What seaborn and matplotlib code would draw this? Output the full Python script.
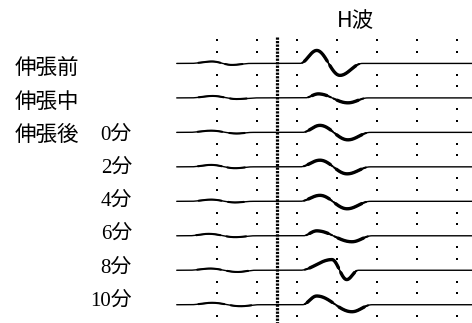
import numpy as np
import pandas as pd
import seaborn as sns
import matplotlib.pyplot as plt

# Row labels (top to bottom)
stage_labels = ["伸張前", "伸張中", "伸張後", "", "", "", "", ""]
minute_labels = ["", "", "0分", "2分", "4分", "6分", "8分", "10分"]

# Early small wave (time in ms, amplitude in grid divisions)
e_start = [1.7, 1.7, 1.5, 1.7, 1.7, 1.5, 1.5, 1.7]
e_peak_t = [4.4, 4.5, 4.3, 4.3, 4.3, 4.0, 4.2, 4.4]
e_peak_amp = [0.17, 0.17, 0.15, 0.17, 0.15, 0.17, 0.15, 0.17]
e_trough_t = [6.9, 7.5, 7.5, 7.3, 7.3, 7.3, 7.6, 8.0]
e_trough_amp = [-0.13, -0.10, -0.10, -0.12, -0.10, -0.12, -0.15, -0.13]
e_end = [9.2, 10.0, 9.5, 9.5, 9.5, 9.8, 9.8, 10.3]

# H wave
h_start = [15.4, 16.0, 15.7, 15.4, 15.4, 15.8, 15.4, 15.7]
h_peak_t = [17.5, 17.7, 17.9, 17.9, 17.9, 17.5, 19.4, 17.5]
h_peak_amp = [1.13, 0.35, 0.61, 0.58, 0.52, 0.43, 0.93, 0.76]
h_trough_t = [20.4, 21.4, 21.4, 21.3, 21.3, 21.9, 21.25, 21.9]
h_trough_amp = [-1.04, -0.43, -0.65, -0.61, -0.65, -0.52, -0.81, -0.61]
h_end = [23.2, 23.9, 24.2, 24.2, 24.2, 24.4, 22.7, 24.4]

grid_t = [5, 10, 15, 20, 25, 30, 35]
marker_t = 12.5
sweep_end = 37.0


def trace(i, n=1200):
    # knots of one sweep, joined with smooth cosine easing
    kt = [0, e_start[i], e_peak_t[i], e_trough_t[i], e_end[i],
          h_start[i], h_peak_t[i], h_trough_t[i], h_end[i], sweep_end]
    ka = [0, 0, e_peak_amp[i], e_trough_amp[i], 0,
          0, h_peak_amp[i], h_trough_amp[i], 0, 0]
    t = np.linspace(0, sweep_end, n)
    seg = np.clip(np.searchsorted(kt, t, side="right") - 1, 0, len(kt) - 2)
    t0, t1 = np.take(kt, seg), np.take(kt, seg + 1)
    a0, a1 = np.take(ka, seg), np.take(ka, seg + 1)
    s = np.where(t1 > t0, (t - t0) / np.where(t1 > t0, t1 - t0, 1), 0)
    a = a0 + (a1 - a0) * (1 - np.cos(np.pi * s)) / 2
    return t, a


sns.set_theme(style="white")
plt.rcParams["font.family"] = ["Noto Sans CJK JP", "DejaVu Sans"]

fig = plt.figure(figsize=(4.72, 3.23), dpi=100)
ax = fig.add_axes([0, 0, 1, 1])
ax.set_xlim(-22.09, 36.91)
ax.set_ylim(7.53, -1.84)
ax.axis("off")

# dotted grid
dots = pd.DataFrame(
    [(t, n / 3) for t in grid_t for n in range(-2, 23) if n % 3 != 0],
    columns=["t", "y"],
)
sns.scatterplot(data=dots, x="t", y="y", ax=ax, marker="s", s=2.5,
                color="black", linewidth=0, legend=False)

# stimulus marker line
ax.vlines(marker_t, -0.77, 7.53, color="black", lw=2.3,
          linestyles=(0, (0.7, 0.4)))

for i in range(len(minute_labels)):
    t, a = trace(i)
    y = i - a / 3
    sns.lineplot(x=t, y=y, ax=ax, color="black", lw=1.0,
                 sort=False, estimator=None)
    ax.plot(t, np.where(np.abs(a) > 0.05, y, np.nan), color="black",
            lw=1.5, solid_capstyle="round")
    ax.plot(t, np.where(np.abs(a) > 0.2, y, np.nan), color="black",
            lw=2.4, solid_capstyle="round")

    ly = 0.16 + i * 0.962
    if stage_labels[i]:
        ax.text(-20.2, ly, stage_labels[i], fontsize=15.5, ha="left",
                va="center", color="black")
    if minute_labels[i]:
        ax.text(-5.6, ly, minute_labels[i], fontsize=15, ha="right",
                va="center", color="black",
                family=["Liberation Serif", "Noto Sans CJK JP"])

ax.text(22.3, -1.22, "H波", fontsize=15.5, ha="center", va="center",
        color="black")

fig.savefig("out.png", dpi=100)
